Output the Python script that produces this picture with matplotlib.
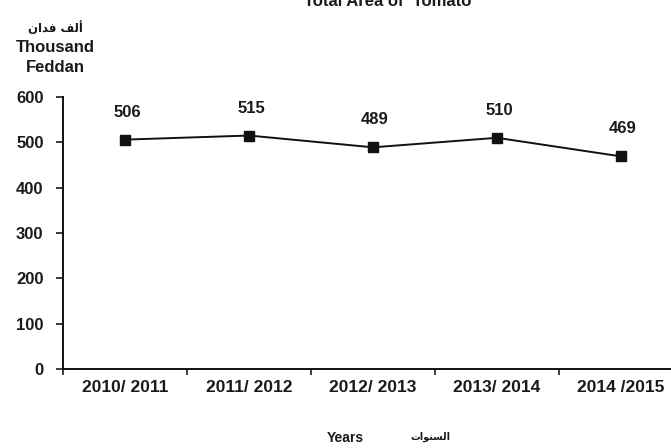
import matplotlib
matplotlib.use("Agg")
import matplotlib.pyplot as plt
import numpy as np

# data
years = ["2010/ 2011", "2011/ 2012", "2012/ 2013", "2013/ 2014", "2014 /2015"]
area = [506, 515, 489, 510, 469]
yticks = [0, 100, 200, 300, 400, 500, 600]

# Arabic written in presentation forms, visual order (matplotlib has no shaping)
ar_unit = "\uFEE5\uFE8D\uFEAA\uFED3 \uFED2\uFEDF\uFE83"      # ألف فدان
ar_years = "\uFE95\uFE8D\uFEEE\uFEE8\uFEB4\uFEDF\uFE8D"      # السنوات

plt.rcParams["font.family"] = ["Liberation Sans", "DejaVu Sans"]
plt.rcParams["font.weight"] = "bold"
plt.rcParams["text.color"] = "#1a1a1a"
plt.rcParams["xtick.color"] = "#1a1a1a"
plt.rcParams["ytick.color"] = "#1a1a1a"

W, H = 671, 448
fig = plt.figure(figsize=(W / 100, H / 100), dpi=100)
ax = fig.add_axes([63 / W, 79 / H, 620 / W, 272 / H])

x = np.arange(len(years))
ax.plot(x, area, color="#111111", lw=1.4, marker="s", ms=6.5, mfc="#111111", mec="#111111")
for xi, v in zip(x, area):
    ax.annotate(str(v), (xi, v), xytext=(2, 20), textcoords="offset pixels",
                ha="center", va="bottom", fontsize=12, weight="bold")

ax.set_xlim(-0.5, len(years) - 0.5)
ax.set_ylim(0, 600)
ax.set_yticks(yticks)
ax.set_xticks(x)
ax.set_xticklabels(years, fontsize=12.5, weight="bold")
ax.set_xticks(np.arange(-0.5, len(years), 1), minor=True)
ax.tick_params(axis="x", which="major", length=0, pad=8)
ax.tick_params(axis="x", which="minor", length=4, width=1.2)
ax.tick_params(axis="y", length=5, width=1.2, labelsize=12, pad=9)
for lab in ax.get_yticklabels():
    lab.set_fontweight("bold")
for s in ["top", "right"]:
    ax.spines[s].set_visible(False)
for s in ["left", "bottom"]:
    ax.spines[s].set_linewidth(1.4)
    ax.spines[s].set_color("#111111")

fig.text(55 / W, 1 - 47 / H, "Thousand", ha="center", va="center", fontsize=12, weight="bold")
fig.text(55 / W, 1 - 68 / H, "Feddan", ha="center", va="center", fontsize=12, weight="bold")
fig.text(55 / W, 1 - 28 / H, ar_unit, ha="center", va="center", fontsize=8.5,
         family="DejaVu Sans", weight="bold")
fig.text(388 / W, 1 - 6 / H, "Total Area of  Tomato", ha="center", va="baseline",
         fontsize=12, weight="bold")
fig.text(345 / W, 1 - 438 / H, "Years", ha="center", va="center", fontsize=10, weight="bold")
fig.text(430 / W, 1 - 437 / H, ar_years, ha="center", va="center", fontsize=7,
         family="DejaVu Sans", weight="bold")

fig.savefig("out.png", dpi=100)
